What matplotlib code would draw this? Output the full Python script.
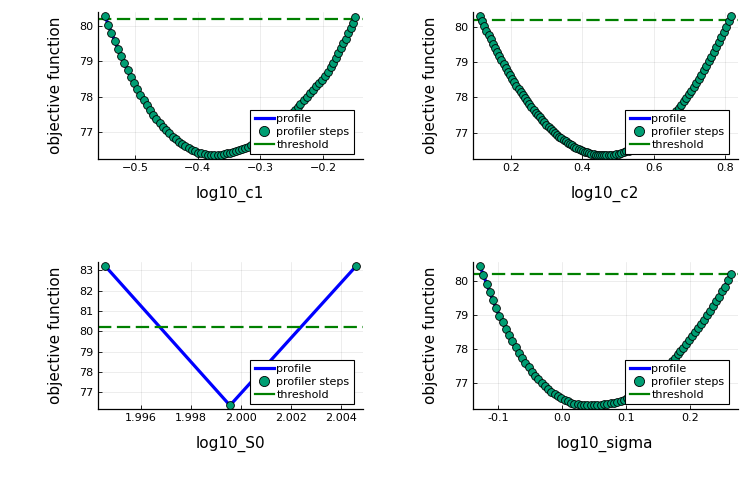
import numpy as np
import matplotlib
matplotlib.use('Agg')
import matplotlib.pyplot as plt
from matplotlib.ticker import FormatStrFormatter

threshold = 80.2

# log10_c1 profile
c1_x = [-0.5478, -0.5427, -0.5376, -0.5325, -0.5273, -0.5222, -0.5171, -0.5120, -0.5068, -0.5017,
        -0.4966, -0.4915, -0.4863, -0.4812, -0.4761, -0.4710, -0.4658, -0.4607, -0.4556, -0.4505,
        -0.4453, -0.4402, -0.4351, -0.4300, -0.4248, -0.4197, -0.4146, -0.4095, -0.4043, -0.3992,
        -0.3941, -0.3890, -0.3838, -0.3787, -0.3736, -0.3685, -0.3633, -0.3582, -0.3531, -0.3480,
        -0.3433, -0.3386, -0.3339, -0.3292, -0.3245, -0.3198, -0.3151, -0.3104, -0.3057, -0.3010,
        -0.2963, -0.2916, -0.2869, -0.2822, -0.2775, -0.2728, -0.2681, -0.2634, -0.2587, -0.2540,
        -0.2493, -0.2446, -0.2406, -0.2366, -0.2313, -0.2260, -0.2212, -0.2160, -0.2112, -0.2064,
        -0.2016, -0.1968, -0.1925, -0.1882, -0.1840, -0.1797, -0.1760, -0.1718, -0.1680, -0.1643,
        -0.1606, -0.1563, -0.1526, -0.1490]
c1_y = [80.27, 80.03, 79.80, 79.58, 79.35, 79.15, 78.94, 78.74, 78.56, 78.39,
        78.22, 78.06, 77.91, 77.77, 77.63, 77.50, 77.38, 77.27, 77.15, 77.06,
        76.97, 76.88, 76.81, 76.73, 76.67, 76.61, 76.56, 76.51, 76.47, 76.43,
        76.41, 76.39, 76.37, 76.36, 76.36, 76.36, 76.37, 76.39, 76.41, 76.43,
        76.45, 76.47, 76.50, 76.53, 76.56, 76.59, 76.63, 76.67, 76.71, 76.77,
        76.82, 76.88, 76.94, 77.00, 77.07, 77.14, 77.22, 77.30, 77.38, 77.46,
        77.55, 77.64, 77.72, 77.80, 77.90, 78.00, 78.10, 78.20, 78.29, 78.38,
        78.47, 78.58, 78.70, 78.83, 78.96, 79.08, 79.22, 79.36, 79.50, 79.63,
        79.79, 79.93, 80.08, 80.25]

# log10_c2 profile
c2_x = [0.114, 0.120, 0.126, 0.132, 0.138, 0.144, 0.150, 0.156, 0.162, 0.168,
        0.174, 0.180, 0.186, 0.192, 0.198, 0.204, 0.210, 0.216, 0.222, 0.228,
        0.234, 0.240, 0.246, 0.252, 0.258, 0.264, 0.270, 0.276, 0.282, 0.288,
        0.294, 0.300, 0.306, 0.312, 0.318, 0.324, 0.330, 0.336, 0.342, 0.348,
        0.354, 0.360, 0.366, 0.372, 0.378, 0.384, 0.390, 0.396, 0.402, 0.408,
        0.414, 0.420, 0.426, 0.432, 0.438, 0.444, 0.450, 0.456, 0.462, 0.468,
        0.474, 0.481, 0.488, 0.495, 0.502, 0.509, 0.516, 0.523, 0.530, 0.537,
        0.544, 0.551, 0.558, 0.565, 0.572, 0.579, 0.586, 0.593, 0.600, 0.607,
        0.614, 0.621, 0.628, 0.635, 0.642, 0.649, 0.656, 0.663, 0.670, 0.677,
        0.684, 0.691, 0.698, 0.705, 0.712, 0.719, 0.726, 0.733, 0.740, 0.747,
        0.754, 0.761, 0.768, 0.775, 0.782, 0.789, 0.796, 0.803, 0.810, 0.817]
c2_y = [80.30, 80.15, 80.01, 79.89, 79.76, 79.64, 79.52, 79.40, 79.28, 79.17,
        79.05, 78.94, 78.84, 78.73, 78.63, 78.53, 78.43, 78.33, 78.24, 78.15,
        78.06, 77.97, 77.89, 77.80, 77.72, 77.65, 77.57, 77.50, 77.43, 77.36,
        77.29, 77.23, 77.16, 77.10, 77.05, 76.99, 76.94, 76.89, 76.84, 76.80,
        76.75, 76.71, 76.67, 76.64, 76.60, 76.57, 76.54, 76.51, 76.49, 76.46,
        76.44, 76.42, 76.41, 76.39, 76.38, 76.37, 76.37, 76.36, 76.36, 76.36,
        76.36, 76.37, 76.38, 76.39, 76.40, 76.42, 76.44, 76.47, 76.49, 76.52,
        76.56, 76.60, 76.64, 76.68, 76.72, 76.77, 76.83, 76.88, 76.94, 77.00,
        77.07, 77.13, 77.20, 77.28, 77.36, 77.44, 77.52, 77.61, 77.70, 77.79,
        77.89, 77.98, 78.09, 78.19, 78.30, 78.41, 78.53, 78.64, 78.77, 78.89,
        79.02, 79.15, 79.28, 79.42, 79.56, 79.70, 79.84, 79.99, 80.15, 80.30]

# log10_S0 profile, only three steps
s0_x = [1.99458, 1.99957, 2.00461]
s0_y = [83.21, 76.36, 83.20]

# log10_sigma profile
sigma_x = [-0.1286, -0.1235, -0.1182, -0.1135, -0.1088, -0.1036, -0.0984, -0.0931, -0.0879, -0.0828,
           -0.0781, -0.0728, -0.0676, -0.0624, -0.0577, -0.0524, -0.0473, -0.0421, -0.0374, -0.0321,
           -0.0269, -0.0218, -0.0171, -0.0117, -0.0066, -0.0014, 0.0039, 0.0086, 0.0138, 0.0189,
           0.0243, 0.0294, 0.0341, 0.0393, 0.0446, 0.0498, 0.0550, 0.0603, 0.0654, 0.0706,
           0.0759, 0.0810, 0.0862, 0.0915, 0.0967, 0.1019, 0.1066, 0.1112, 0.1158, 0.1204,
           0.1250, 0.1297, 0.1343, 0.1389, 0.1435, 0.1481, 0.1528, 0.1574, 0.1620, 0.1666,
           0.1712, 0.1759, 0.1805, 0.1851, 0.1897, 0.1943, 0.1990, 0.2036, 0.2082, 0.2128,
           0.2174, 0.2221, 0.2267, 0.2313, 0.2359, 0.2405, 0.2452, 0.2498, 0.2544, 0.2590,
           0.2637]
sigma_y = [80.44, 80.19, 79.92, 79.68, 79.45, 79.22, 78.99, 78.80, 78.60, 78.42,
           78.23, 78.06, 77.90, 77.75, 77.60, 77.47, 77.34, 77.22, 77.12, 77.02,
           76.92, 76.83, 76.75, 76.69, 76.62, 76.56, 76.51, 76.47, 76.43, 76.40,
           76.38, 76.36, 76.35, 76.35, 76.35, 76.36, 76.36, 76.37, 76.38, 76.39,
           76.41, 76.43, 76.46, 76.49, 76.52, 76.56, 76.61, 76.67, 76.73, 76.80,
           76.88, 76.96, 77.03, 77.09, 77.16, 77.24, 77.32, 77.40, 77.48, 77.57,
           77.66, 77.75, 77.85, 77.95, 78.05, 78.16, 78.27, 78.38, 78.50, 78.62,
           78.74, 78.87, 79.00, 79.13, 79.27, 79.41, 79.55, 79.70, 79.84, 80.03,
           80.21]


def setup_matplotlib():
    params = {'font.family': 'DejaVu Sans',
              'axes.labelsize': 11,
              'xtick.labelsize': 8,
              'ytick.labelsize': 8,
              'legend.fontsize': 8,
              'axes.linewidth': 0.9,
              'figure.figsize': [7.5, 5.0],
              'figure.dpi': 100}
    plt.rcParams.update(params)


def subplot(ax, x, y, xlim, ylim, xticks, yticks, xAxisLabel, xfmt=None):
    line_color = '#0000ff'
    step_color = '#009e73'
    thr_color = '#008000'
    ax.grid(True, color='black', alpha=0.1, linewidth=0.5)
    ax.set_axisbelow(True)
    ax.plot(x, y, '-', color=line_color, linewidth=2.3, label='profile', zorder=2)
    ax.plot(x, y, 'o', color=step_color, markersize=5.6, markeredgecolor='black',
            markeredgewidth=0.6, label='profiler steps', zorder=3)
    ax.axhline(threshold, color=thr_color, linewidth=1.6, dashes=(6, 2.5),
               label='threshold', zorder=2)
    ax.set_xlim(xlim)
    ax.set_ylim(ylim)
    ax.set_xticks(xticks)
    ax.set_yticks(yticks)
    if xfmt:
        ax.xaxis.set_major_formatter(FormatStrFormatter(xfmt))
    for side in ['top', 'right']:
        ax.spines[side].set_visible(False)
    ax.tick_params(direction='in', length=3, width=0.6, pad=3)
    ax.set_xlabel(xAxisLabel, labelpad=9)
    ax.set_ylabel('objective function', labelpad=12)
    leg = ax.legend(loc='lower right', bbox_to_anchor=(0.967, 0.034), borderaxespad=0,
                    fancybox=False, framealpha=1, edgecolor='black', borderpad=0.4,
                    handlelength=1.75, handletextpad=0.2, labelspacing=0.25,
                    markerscale=1.3)
    leg.get_frame().set_linewidth(0.8)
    # legend line for the threshold is drawn solid, like the reference
    leg.get_lines()[2].set_linestyle('-')


def plot_profiles():
    setup_matplotlib()
    fig = plt.figure()
    w, h = 0.3533, 0.2946
    ax1 = fig.add_axes([0.1303, 0.6814, w, h])
    ax2 = fig.add_axes([0.6303, 0.6814, w, h])
    ax3 = fig.add_axes([0.1303, 0.1814, w, h])
    ax4 = fig.add_axes([0.6303, 0.1814, w, h])

    subplot(ax1, c1_x, c1_y, [-0.5595, -0.137], [76.24, 80.386],
            [-0.5, -0.4, -0.3, -0.2], [77, 78, 79, 80], 'log10_c1')
    subplot(ax2, c2_x, c2_y, [0.0936, 0.8356], [76.246, 80.416],
            [0.2, 0.4, 0.6, 0.8], [77, 78, 79, 80], 'log10_c2')
    subplot(ax3, s0_x, s0_y, [1.99428, 2.00488], [76.17, 83.41],
            [1.996, 1.998, 2.000, 2.002, 2.004], [77, 78, 79, 80, 81, 82, 83],
            'log10_S0', xfmt='%.3f')
    subplot(ax4, sigma_x, sigma_y, [-0.140, 0.2746], [76.237, 80.566],
            [-0.1, 0.0, 0.1, 0.2], [77, 78, 79, 80], 'log10_sigma', xfmt='%.1f')

    fig.savefig('out.png', dpi=100)


if __name__ == '__main__':
    plot_profiles()
